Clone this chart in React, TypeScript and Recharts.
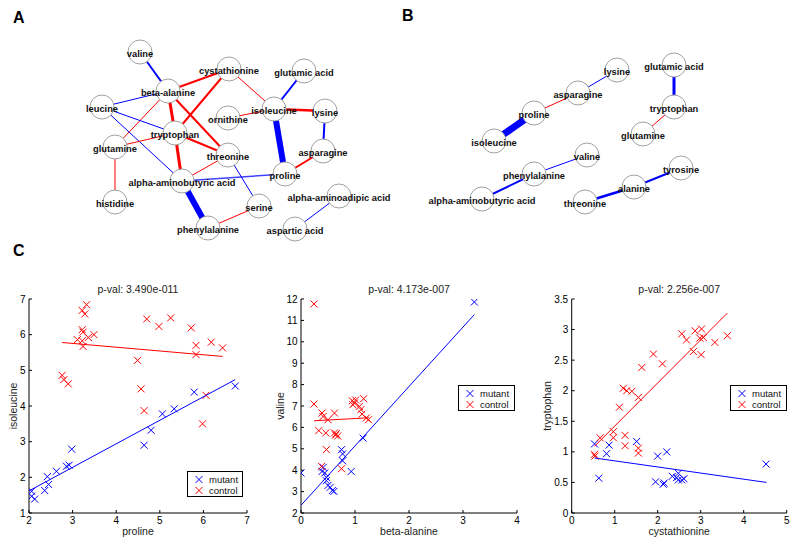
import React from 'react';
import { ScatterChart, Scatter, XAxis, YAxis } from 'recharts';

const FONT = '"Liberation Sans", Arial, Helvetica, sans-serif';
const RED = '#ff0000';
const BLUE = '#0000ff';

// ---- panel A network: node layout (layout units) ----
const aNodes = [
  'valine', 'cystathionine', 'glutamic acid', 'beta-alanine', 'leucine', 'isoleucine', 'lysine',
  'ornithine', 'tryptophan', 'glutamine', 'threonine', 'asparagine', 'alpha-aminobutyric acid',
  'proline', 'histidine', 'serine', 'alpha-aminoadipic acid', 'phenylalanine', 'aspartic acid',
];
const aNodeX = [140, 229, 304, 168, 102, 274, 325, 228, 175, 115, 228, 323, 182, 285, 115, 259, 339, 208, 295];
const aNodeY = [52, 69, 71, 91, 107, 109, 111, 118, 133, 147, 155, 151, 181, 174, 202, 206, 196, 228, 229];
// [from, to, signed weight (red > 0, blue < 0), confidence]
const aEdges: [string, string, number, number][] = [
  ['valine', 'beta-alanine', -2, 1],
  ['beta-alanine', 'cystathionine', 2, 1],
  ['beta-alanine', 'leucine', -1, 1],
  ['beta-alanine', 'glutamine', 1, 1],
  ['beta-alanine', 'tryptophan', 3, 1],
  ['beta-alanine', 'threonine', 2, 1],
  ['cystathionine', 'tryptophan', 2, 1],
  ['cystathionine', 'isoleucine', 1, 1],
  ['glutamic acid', 'isoleucine', -2, 1],
  ['isoleucine', 'lysine', 2.5, 1],
  ['isoleucine', 'ornithine', 1, 1],
  ['isoleucine', 'proline', -6, 1],
  ['lysine', 'asparagine', -2, 1],
  ['asparagine', 'proline', 2, 1],
  ['leucine', 'tryptophan', -1, 1],
  ['leucine', 'alpha-aminobutyric acid', -1, 1],
  ['glutamine', 'tryptophan', 1, 1],
  ['glutamine', 'histidine', 2, 0.5],
  ['tryptophan', 'threonine', 2, 1],
  ['tryptophan', 'alpha-aminobutyric acid', 3, 1],
  ['threonine', 'alpha-aminobutyric acid', 1, 1],
  ['threonine', 'serine', -1, 1],
  ['alpha-aminobutyric acid', 'proline', -1.5, 0.75],
  ['alpha-aminobutyric acid', 'phenylalanine', -6, 1],
  ['phenylalanine', 'serine', 1, 1],
  ['alpha-aminoadipic acid', 'aspartic acid', -1, 1],
];

// ---- panel B network ----
const bNodes = [
  'lysine', 'asparagine', 'proline', 'isoleucine', 'glutamic acid', 'tryptophan', 'glutamine',
  'valine', 'phenylalanine', 'alpha-aminobutyric acid', 'tyrosine', 'alanine', 'threonine',
];
const bNodeX = [617, 578, 534, 494, 674, 674, 643, 587, 534, 482, 681, 634, 585];
const bNodeY = [70, 93, 113, 141, 65, 107, 134, 155, 174, 199, 168, 187, 202];
const bEdges: [string, string, number, number][] = [
  ['lysine', 'asparagine', -1, 1],
  ['asparagine', 'proline', 1, 1],
  ['proline', 'isoleucine', -7, 1],
  ['glutamic acid', 'tryptophan', -3, 1],
  ['tryptophan', 'glutamine', 1, 1],
  ['valine', 'phenylalanine', -1, 1],
  ['phenylalanine', 'alpha-aminobutyric acid', -2, 1],
  ['tyrosine', 'alanine', -2, 1],
  ['alanine', 'threonine', -2.5, 1],
];

// ---- panel C scatter data ----
const seriesNames = ['mutant', 'control'];

const prolineMutant = [
  [2.06, 1.61], [2.06, 1.47], [2.13, 1.39], [2.42, 2.02], [2.36, 1.63], [2.45, 1.8], [2.63, 2.17],
  [2.86, 2.31], [2.92, 2.34], [2.98, 2.79], [4.64, 2.9], [4.8, 3.32], [5.06, 3.78], [5.33, 3.92],
  [5.79, 4.39], [6.73, 4.56],
];
const prolineControl = [
  [3.32, 6.84], [3.22, 6.68], [3.28, 6.58], [3.22, 6.14], [3.24, 6.07], [3.49, 6.0], [3.11, 5.86],
  [3.36, 5.92], [3.22, 5.83], [3.24, 5.67], [2.76, 4.86], [2.8, 4.74], [2.9, 4.62], [4.7, 6.44],
  [4.98, 6.23], [5.25, 6.47], [5.72, 6.19], [5.83, 5.7], [5.83, 5.44], [6.18, 5.79], [6.44, 5.63],
  [4.49, 5.28], [4.57, 4.48], [4.64, 3.87], [6.06, 4.3], [5.98, 3.5],
];
const prolineMutantFit = [[2.0, 1.62], [6.73, 4.74]];
const prolineControlFit = [[2.76, 5.78], [6.44, 5.39]];

const betaMutant = [
  [0.0, 3.87], [0.41, 4.13], [0.39, 3.94], [0.44, 3.87], [0.47, 3.66], [0.47, 3.51], [0.5, 3.29],
  [0.54, 3.2], [0.61, 3.01], [0.58, 3.05], [0.75, 4.96], [0.77, 4.76], [0.77, 4.44], [0.93, 3.94],
  [1.15, 5.5], [3.21, 11.86],
];
const betaControl = [
  [0.24, 11.77], [0.24, 7.09], [0.39, 6.67], [0.41, 6.51], [0.62, 6.67], [0.5, 6.36], [0.33, 5.85],
  [0.46, 5.74], [0.62, 5.74], [0.65, 5.7], [0.68, 5.6], [0.64, 5.64], [0.47, 4.96], [0.38, 4.18],
  [0.75, 4.07], [0.95, 7.25], [0.99, 7.14], [1.16, 7.34], [1.08, 6.98], [1.11, 6.83], [0.96, 7.06],
  [1.01, 7.28], [1.13, 6.62], [1.21, 6.44], [1.25, 6.36],
];
const betaMutantFit = [[0.0, 2.36], [3.21, 11.27]];
const betaControlFit = [[0.24, 6.31], [1.26, 6.45]];

const cystaMutant = [
  [0.53, 1.13], [0.87, 1.11], [0.81, 0.97], [0.63, 0.57], [1.51, 1.17], [2.0, 0.93], [2.21, 1.0],
  [1.95, 0.51], [2.13, 0.47], [2.15, 0.49], [2.34, 0.6], [2.48, 0.65], [2.48, 0.54], [2.56, 0.54],
  [2.61, 0.56], [2.44, 0.58], [4.52, 0.8],
];
const cystaControl = [
  [0.53, 0.96], [0.54, 0.93], [0.66, 1.23], [0.97, 1.33], [0.97, 1.23], [1.11, 1.73], [1.2, 2.04],
  [1.28, 2.0], [1.4, 1.99], [1.24, 1.27], [1.24, 1.1], [1.55, 1.89], [1.55, 1.06], [1.55, 0.98],
  [1.63, 2.38], [1.9, 2.6], [2.11, 2.44], [2.56, 2.93], [2.67, 2.83], [2.87, 2.98], [3.02, 3.01],
  [2.98, 2.86], [3.06, 2.87], [2.83, 2.64], [3.01, 2.59], [3.33, 2.79], [3.62, 2.9],
];
const cystaMutantFit = [[0.53, 0.9], [4.53, 0.5]];
const cystaControlFit = [[0.53, 1.09], [3.62, 3.27]];

const toPoints = (pairs: number[][]) => pairs.map(([x, y]) => ({ x, y }));
const range = (a: number, b: number, s: number) => {
  const out: number[] = [];
  for (let v = a; v <= b + 1e-9; v += s) out.push(Math.round(v * 10) / 10);
  return out;
};

const noShape = () => <g />;

const xMark = (color: string) => (props: any) => {
  const { cx, cy } = props;
  if (cx == null || cy == null) return <g />;
  const r = 3.5;
  return (
    <g stroke={color} strokeWidth={1}>
      <line x1={cx - r} y1={cy - r} x2={cx + r} y2={cy + r} />
      <line x1={cx - r} y1={cy + r} x2={cx + r} y2={cy - r} />
    </g>
  );
};

const nodeCircle = (props: any) => {
  const { cx, cy } = props;
  if (cx == null || cy == null) return <g />;
  return <circle cx={cx} cy={cy} r={12} fill="#fff" stroke="#a0a0a0" strokeWidth={1} />;
};

const nodeLabel = (props: any) => {
  const { cx, cy, payload } = props;
  if (cx == null || cy == null) return <g />;
  return (
    <text x={cx} y={cy + 4.5} textAnchor="middle" fontSize={9.3} fontWeight="bold" fontFamily={FONT} fill="#111">
      {payload.name}
    </text>
  );
};

function Network({ names, xs, ys, edges, left, xDomain }: any) {
  const nodes = names.map((name: string, i: number) => ({ name, x: xs[i], y: ys[i] }));
  const find = (n: string) => nodes.find((d: any) => d.name === n);
  return (
    <div style={{ position: 'absolute', left, top: 0 }}>
      <ScatterChart width={400} height={250} margin={{ top: 0, right: 0, bottom: 0, left: 0 }}>
        <XAxis type="number" dataKey="x" domain={xDomain} hide allowDataOverflow />
        <YAxis type="number" dataKey="y" domain={[0, 250]} reversed hide allowDataOverflow />
        {edges.map(([a, b, w, c]: any, i: number) => (
          <Scatter
            key={i}
            data={[find(a), find(b)]}
            line={{ stroke: w > 0 ? RED : BLUE, strokeWidth: Math.abs(w), strokeOpacity: c }}
            shape={noShape}
            isAnimationActive={false}
          />
        ))}
        <Scatter data={nodes} shape={nodeCircle} isAnimationActive={false} />
        <Scatter data={nodes} shape={nodeLabel} isAnimationActive={false} />
      </ScatterChart>
    </div>
  );
}

function Plot(p: any) {
  const plotW = p.width - p.ml - p.yw - p.mr;
  return (
    <div style={{ position: 'absolute', left: p.left, top: 280, width: p.width, height: 265 }}>
      <ScatterChart width={p.width} height={265} margin={{ top: 19, right: p.mr, bottom: 2, left: p.ml }}>
        <XAxis
          type="number"
          dataKey="x"
          domain={p.xDomain}
          ticks={p.xTicks}
          interval={0}
          allowDataOverflow
          height={30}
          stroke="#000"
          tickSize={-3}
          tickMargin={7}
          tick={{ fill: '#000', fontSize: 10, fontFamily: FONT }}
          label={{ value: p.xLabel, position: 'insideBottom', offset: 8, fill: '#222', fontSize: 10.5, fontFamily: FONT }}
        />
        <YAxis
          type="number"
          dataKey="y"
          domain={p.yDomain}
          ticks={p.yTicks}
          interval={0}
          allowDataOverflow
          width={p.yw}
          stroke="#000"
          tickSize={-3}
          tickMargin={6.5}
          tick={{ fill: '#000', fontSize: 10, fontFamily: FONT }}
          label={{
            value: p.yLabel,
            angle: -90,
            position: 'insideLeft',
            offset: p.yLabelOffset,
            fill: '#222',
            fontSize: 10.5,
            fontFamily: FONT,
            style: { textAnchor: 'middle' },
          }}
        />
        <Scatter data={toPoints(p.mutant)} shape={xMark(BLUE)} isAnimationActive={false} />
        <Scatter data={toPoints(p.control)} shape={xMark(RED)} isAnimationActive={false} />
        <Scatter data={toPoints(p.mutantFit)} line={{ stroke: BLUE, strokeWidth: 1 }} shape={noShape} isAnimationActive={false} />
        <Scatter data={toPoints(p.controlFit)} line={{ stroke: RED, strokeWidth: 1 }} shape={noShape} isAnimationActive={false} />
      </ScatterChart>
      <div
        style={{
          position: 'absolute', left: p.ml + p.yw, width: plotW, top: 3, textAlign: 'center',
          fontSize: 10.5, lineHeight: '12px', color: '#222', fontFamily: FONT,
        }}
      >
        {p.title}
      </div>
      <div
        style={{
          position: 'absolute', left: p.legendLeft, top: p.legendTop, width: p.legendWidth, height: 26,
          boxSizing: 'border-box', border: '1px solid #000', background: '#fff', paddingTop: 1.5,
          fontFamily: FONT, fontSize: 9.5, color: '#111',
        }}
      >
        {seriesNames.map((name, i) => (
          <div key={name} style={{ height: 11, lineHeight: '11px', display: 'flex', alignItems: 'center' }}>
            <svg width={21} height={11} style={{ flex: 'none' }}>
              {xMark(i === 0 ? BLUE : RED)({ cx: 11, cy: 5.5 })}
            </svg>
            <span>{name}</span>
          </div>
        ))}
      </div>
    </div>
  );
}

const letter = (ch: string, left: number, top: number) => (
  <div style={{ position: 'absolute', left, top, fontSize: 16, lineHeight: '16px', fontWeight: 'bold', fontFamily: FONT, color: '#000' }}>
    {ch}
  </div>
);

export default function App() {
  return (
    <div style={{ position: 'absolute', left: 0, top: 0, width: 800, height: 545, background: '#fff', overflow: 'hidden' }}>
      <Network names={aNodes} xs={aNodeX} ys={aNodeY} edges={aEdges} left={0} xDomain={[0, 400]} />
      <Network names={bNodes} xs={bNodeX} ys={bNodeY} edges={bEdges} left={400} xDomain={[400, 800]} />
      {letter('A', 13, 10)}
      {letter('B', 402, 8)}
      {letter('C', 13, 243)}
      <Plot
        left={0} width={270} ml={4} yw={25} mr={23} yLabelOffset={9}
        xDomain={[2, 7]} yDomain={[1, 7]} xTicks={range(2, 7, 1)} yTicks={range(1, 7, 1)}
        xLabel="proline" yLabel="isoleucine" title="p-val: 3.490e-011"
        mutant={prolineMutant} control={prolineControl} mutantFit={prolineMutantFit} controlFit={prolineControlFit}
        legendLeft={187} legendTop={191} legendWidth={56}
      />
      <Plot
        left={270} width={270} ml={6} yw={25} mr={23} yLabelOffset={4}
        xDomain={[0, 4]} yDomain={[2, 12]} xTicks={range(0, 4, 1)} yTicks={range(2, 12, 1)}
        xLabel="beta-alanine" yLabel="valine" title="p-val: 4.173e-007"
        mutant={betaMutant} control={betaControl} mutantFit={betaMutantFit} controlFit={betaControlFit}
        legendLeft={188} legendTop={105} legendWidth={57}
      />
      <Plot
        left={530} width={270} ml={11.7} yw={30} mr={13.3} yLabelOffset={5.3}
        xDomain={[0, 5]} yDomain={[0, 3.5]} xTicks={range(0, 5, 1)} yTicks={range(0, 3.5, 0.5)}
        xLabel="cystathionine" yLabel="tryptophan" title="p-val: 2.256e-007"
        mutant={cystaMutant} control={cystaControl} mutantFit={cystaMutantFit} controlFit={cystaControlFit}
        legendLeft={200} legendTop={105} legendWidth={57}
      />
    </div>
  );
}
